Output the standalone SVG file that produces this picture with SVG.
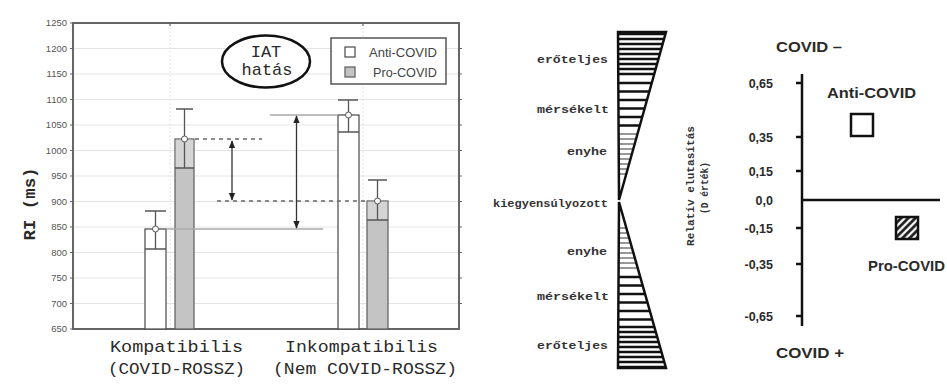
<svg xmlns="http://www.w3.org/2000/svg" width="947" height="384" viewBox="0 0 947 384">
<defs>
<style>
.tick{font-family:"Liberation Sans",Arial,sans-serif;font-size:9.5px;fill:#555;text-anchor:end}
.grid{stroke:#e4e4e4;stroke-width:1}
.vgrid{stroke:#e4e4e4;stroke-width:1;stroke-dasharray:2 2}
.frame{fill:none;stroke:#666;stroke-width:2}
.tk{stroke:#666;stroke-width:1.2}
.mono{font-family:"Liberation Mono","Courier New",monospace;fill:#2a2a2a}
.cat{font-size:17px}
.anti{fill:#fff;stroke:#555;stroke-width:1.3}
.pro{fill:#c4c4c4;stroke:#666;stroke-width:1.3}
.err{stroke:#555;stroke-width:1.3;fill:none}
.mean{fill:#fff;stroke:#555;stroke-width:1}
.dash{stroke:#666;stroke-width:1.5;stroke-dasharray:4 4;fill:none}
.ref{stroke:#aaa;stroke-width:1.3}
.arr{stroke:#333;stroke-width:1.3;marker-start:url(#ah);marker-end:url(#ah)}
.scale{font-family:"Liberation Mono","Courier New",monospace;font-size:11px;font-weight:bold;fill:#333}
.dense{stroke:#111;stroke-width:2.5}
.med{stroke:#111;stroke-width:2.5}
.thin{stroke:#333;stroke-width:1.1}
.tri{fill:none;stroke:#111;stroke-width:2.5;stroke-linejoin:miter}
.sans{font-family:"Liberation Sans",Arial,sans-serif;font-weight:bold;fill:#2a2a2a}
.ax{stroke:#111;stroke-width:2.5;fill:none}
.lg{font-family:"Liberation Sans",Arial,sans-serif;font-size:12px;fill:#444}
</style>
<marker id="ah" viewBox="0 0 10 10" refX="9" refY="5" markerWidth="8" markerHeight="8" orient="auto-start-reverse" markerUnits="userSpaceOnUse"><path d="M0,1 L10,5 L0,9 z" fill="#222"/></marker>
<pattern id="hatch" width="5" height="5" patternUnits="userSpaceOnUse" patternTransform="rotate(45)"><rect width="5" height="5" fill="#fff"/><line x1="1.5" y1="0" x2="1.5" y2="5" stroke="#111" stroke-width="2.6"/></pattern>
<clipPath id="cu"><polygon points="618,32 666,32 619,200"/></clipPath>
<clipPath id="cl"><polygon points="619,202 618,368 666,368"/></clipPath>
</defs>
<rect width="947" height="384" fill="#fff"/>

<g id="left-chart">
 <g id="grid">
  <line class="grid" x1="73" y1="48.5" x2="459" y2="48.5"/>
  <line class="grid" x1="73" y1="74" x2="459" y2="74"/>
  <line class="grid" x1="73" y1="99.5" x2="459" y2="99.5"/>
  <line class="grid" x1="73" y1="125" x2="459" y2="125"/>
  <line class="grid" x1="73" y1="150.5" x2="459" y2="150.5"/>
  <line class="grid" x1="73" y1="176" x2="459" y2="176"/>
  <line class="grid" x1="73" y1="201.5" x2="459" y2="201.5"/>
  <line class="grid" x1="73" y1="227" x2="459" y2="227"/>
  <line class="grid" x1="73" y1="252.5" x2="459" y2="252.5"/>
  <line class="grid" x1="73" y1="278" x2="459" y2="278"/>
  <line class="grid" x1="73" y1="303.5" x2="459" y2="303.5"/>
  <line class="vgrid" x1="170" y1="23" x2="170" y2="329"/>
  <line class="vgrid" x1="363" y1="23" x2="363" y2="329"/>
 </g>
 <rect class="frame" x="73" y="23" width="386" height="306"/>
 <g id="ticks">
  <path class="tk" d="M70,23h3M70,48.5h3M70,74h3M70,99.5h3M70,125h3M70,150.5h3M70,176h3M70,201.5h3M70,227h3M70,252.5h3M70,278h3M70,303.5h3M70,329h3M459,48.5h3M459,74h3M459,99.5h3M459,125h3M459,150.5h3M459,176h3M459,201.5h3M459,227h3M459,252.5h3M459,278h3M459,303.5h3M170,23v3M363,23v3"/>
 </g>
 <g id="y-labels">
  <text class="tick" x="67" y="26">1250</text>
  <text class="tick" x="67" y="51.5">1200</text>
  <text class="tick" x="67" y="77">1150</text>
  <text class="tick" x="67" y="102.5">1100</text>
  <text class="tick" x="67" y="128">1050</text>
  <text class="tick" x="67" y="153.5">1000</text>
  <text class="tick" x="67" y="179">950</text>
  <text class="tick" x="67" y="204.5">900</text>
  <text class="tick" x="67" y="230">850</text>
  <text class="tick" x="67" y="255.5">800</text>
  <text class="tick" x="67" y="281">750</text>
  <text class="tick" x="67" y="306.5">700</text>
  <text class="tick" x="67" y="332">650</text>
 </g>
 <text class="mono" font-size="17" font-weight="bold" transform="translate(35 204) rotate(-90)" x="0" y="0" text-anchor="middle" textLength="73" lengthAdjust="spacingAndGlyphs">RI (ms)</text>

 <g id="bar-komp-anti">
  <rect class="anti" x="145" y="229" width="21" height="100"/>
  <path class="err" d="M145,211h21M155.5,211V249M145,249h21"/>
  <circle class="mean" cx="155.5" cy="229" r="3"/>
 </g>
 <g id="bar-komp-pro">
  <rect class="pro" x="175" y="139" width="19" height="190"/>
  <rect x="175.7" y="139.7" width="17.6" height="28" fill="#d4d4d4"/>
  <path class="err" d="M176,109h17M184.5,109V168M175,168h19"/>
  <circle class="mean" cx="184.5" cy="139" r="3"/>
 </g>
 <g id="bar-inkomp-anti">
  <rect class="anti" x="338" y="115" width="21" height="214"/>
  <path class="err" d="M338,100h20M348.5,100V132M338,132h21"/>
  <circle class="mean" cx="348.5" cy="115" r="3"/>
 </g>
 <g id="bar-inkomp-pro">
  <rect class="pro" x="367" y="201" width="21" height="128"/>
  <rect x="367.7" y="201.7" width="19.6" height="18" fill="#d4d4d4"/>
  <path class="err" d="M368,180h19M377.5,180V220M367,220h21"/>
  <circle class="mean" cx="377.5" cy="201" r="3"/>
 </g>

 <g id="connectors">
  <line class="dash" x1="195" y1="139" x2="262" y2="139"/>
  <line class="dash" x1="217" y1="201" x2="366" y2="201"/>
  <line class="ref" x1="166" y1="229" x2="323" y2="229"/>
  <line class="ref" x1="270" y1="115" x2="338" y2="115"/>
  <line class="arr" x1="232" y1="141" x2="232" y2="200"/>
  <line class="arr" x1="296.5" y1="116" x2="296.5" y2="228"/>
 </g>

 <g id="iat-label">
  <ellipse cx="266" cy="61.5" rx="44" ry="26" fill="#fff" stroke="#111" stroke-width="2.5"/>
  <text class="mono" font-size="17" x="266" y="57" text-anchor="middle">IAT</text>
  <text class="mono" font-size="17" x="267" y="75" text-anchor="middle">hatás</text>
 </g>

 <g id="legend">
  <rect x="331" y="38" width="115" height="46" fill="#fff" stroke="#555" stroke-width="1.5"/>
  <rect class="anti" x="345" y="47" width="10" height="10"/>
  <rect class="pro" x="345" y="67" width="10" height="10"/>
  <text class="lg" x="369" y="57" textLength="68" lengthAdjust="spacingAndGlyphs">Anti-COVID</text>
  <text class="lg" x="373" y="77" textLength="64" lengthAdjust="spacingAndGlyphs">Pro-COVID</text>
 </g>

 <g id="categories">
  <text class="mono cat" x="110" y="352" textLength="133" lengthAdjust="spacingAndGlyphs">Kompatibilis</text>
  <text class="mono cat" x="108" y="374" textLength="137" lengthAdjust="spacingAndGlyphs">(COVID-ROSSZ)</text>
  <text class="mono cat" x="285" y="352" textLength="153" lengthAdjust="spacingAndGlyphs">Inkompatibilis</text>
  <text class="mono cat" x="273" y="374" textLength="184" lengthAdjust="spacingAndGlyphs">(Nem COVID-ROSSZ)</text>
 </g>
</g>

<g id="middle-scale">
 <g id="upper-triangle">
  <g clip-path="url(#cu)">
   <path class="dense" d="M616,34h52M616,39h52M616,44h52M616,49h52M616,54h52M616,59h52M616,64h52M616,69h52M616,74h52"/>
   <path class="med" d="M616,83h52M616,91.5h52M616,100h52M616,108.5h52M616,117h52M616,125.5h52"/>
   <path class="thin" d="M616,134h52M616,139h52M616,144h52M616,149h52M616,154h52M616,159h52M616,164h52M616,169h52M616,174h52"/>
  </g>
  <polygon class="tri" points="618,32 666,32 619,200"/>
 </g>
 <g id="lower-triangle">
  <g clip-path="url(#cl)">
   <path class="thin" d="M616,228h52M616,233h52M616,238h52M616,243h52M616,248h52M616,253h52M616,258h52M616,263h52M616,268h52"/>
   <path class="med" d="M616,277h52M616,285.5h52M616,294h52M616,302.5h52M616,311h52M616,319.5h52"/>
   <path class="dense" d="M616,327h52M616,332h52M616,337h52M616,342h52M616,347h52M616,352h52M616,357h52M616,362h52M616,367h52"/>
  </g>
  <polygon class="tri" points="619,202 618,368 666,368"/>
 </g>
 <g id="scale-labels">
  <text class="scale" x="537" y="63" textLength="71" lengthAdjust="spacingAndGlyphs">erőteljes</text>
  <text class="scale" x="537" y="113" textLength="72" lengthAdjust="spacingAndGlyphs">mérsékelt</text>
  <text class="scale" x="567" y="155" textLength="40" lengthAdjust="spacingAndGlyphs">enyhe</text>
  <text class="scale" x="493" y="207" textLength="115" lengthAdjust="spacingAndGlyphs">kiegyensúlyozott</text>
  <text class="scale" x="567" y="255" textLength="40" lengthAdjust="spacingAndGlyphs">enyhe</text>
  <text class="scale" x="537" y="300" textLength="72" lengthAdjust="spacingAndGlyphs">mérsékelt</text>
  <text class="scale" x="537" y="349" textLength="71" lengthAdjust="spacingAndGlyphs">erőteljes</text>
 </g>
</g>

<g id="right-chart">
 <text class="scale" font-size="11" transform="translate(694 186) rotate(-90)" x="0" y="0" text-anchor="middle" textLength="120" lengthAdjust="spacingAndGlyphs">Relatív elutasítás</text>
 <text class="scale" font-size="11" transform="translate(708 188) rotate(-90)" x="0" y="0" text-anchor="middle" textLength="52" lengthAdjust="spacingAndGlyphs">(D érték)</text>
 <text class="sans" font-size="15" x="776" y="52" textLength="66" lengthAdjust="spacingAndGlyphs">COVID –</text>
 <text class="sans" font-size="15" x="776" y="358" textLength="68" lengthAdjust="spacingAndGlyphs">COVID +</text>
 <g id="axes">
  <line class="ax" x1="802" y1="74" x2="802" y2="326"/>
  <line class="ax" x1="801" y1="200" x2="940" y2="200"/>
  <path class="ax" d="M796,83h6M796,137h6M796,171h6M796,228h6M796,264h6M796,316h6"/>
 </g>
 <g id="d-labels" class="sans" font-size="12.5" text-anchor="end">
  <text x="773" y="87.5">0,65</text>
  <text x="773" y="141.5">0,35</text>
  <text x="773" y="175.5">0,15</text>
  <text x="773" y="204.5">0,0</text>
  <text x="773" y="232.5">-0,15</text>
  <text x="773" y="268.5">-0,35</text>
  <text x="773" y="320.5">-0,65</text>
 </g>
 <g id="anti-covid-point">
  <text class="sans" font-size="14" x="827" y="98" textLength="89" lengthAdjust="spacingAndGlyphs">Anti-COVID</text>
  <rect x="851" y="114" width="22" height="22" fill="#fff" stroke="#111" stroke-width="2.5"/>
 </g>
 <g id="pro-covid-point">
  <rect x="896" y="217" width="22" height="22" fill="url(#hatch)" stroke="#111" stroke-width="2.5"/>
  <text class="sans" font-size="14" x="868" y="271" textLength="77" lengthAdjust="spacingAndGlyphs">Pro-COVID</text>
 </g>
</g>
</svg>
